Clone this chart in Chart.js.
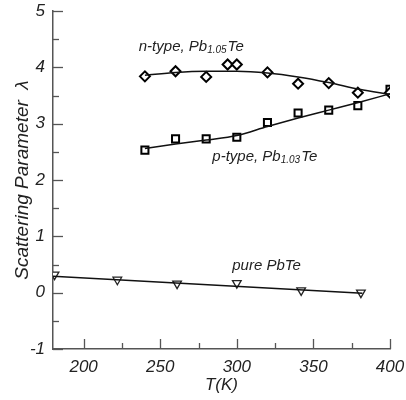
<!DOCTYPE html>
<html>
<head>
<meta charset="utf-8">
<script src="https://cdn.jsdelivr.net/npm/chart.js@4"></script>
<style>
html,body{margin:0;padding:0;background:#fff;}
#wrap{width:406px;height:400px;}
</style>
</head>
<body>
<div id="wrap"><canvas id="c" width="406" height="400"></canvas></div>
<script>
// ---- data ----
const nTypeT      = [240, 260, 280, 294, 300, 320, 340, 360, 379, 400];
const nTypeLambda = [3.84, 3.93, 3.83, 4.05, 4.05, 3.91, 3.71, 3.72, 3.55, 3.55];
const pTypeT      = [240, 260, 280, 300, 320, 340, 360, 379, 400];
const pTypeLambda = [2.53, 2.73, 2.73, 2.76, 3.02, 3.19, 3.24, 3.32, 3.61];
const pureT       = [181, 222, 261, 300, 342, 381];
const pureLambda  = [0.32, 0.23, 0.16, 0.17, 0.04, 0.0];
// fitted curves
const nFitT       = [240, 260, 280, 300, 320, 340, 360, 380, 400];
const nFitLambda  = [3.86, 3.91, 3.93, 3.93, 3.90, 3.83, 3.73, 3.61, 3.52];
const pFitT       = [240, 260, 280, 300, 320, 340, 360, 380, 400];
const pFitLambda  = [2.56, 2.64, 2.71, 2.79, 2.95, 3.10, 3.24, 3.38, 3.53];
const pureFitT    = [180, 382];
const pureFitLambda = [0.29, -0.01];
// axis ticks (major ticks carry labels, minor ones do not)
const xTickLabels = [200, 250, 300, 350, 400];
const xMinorTicks = [225, 275, 325, 375];
const yTickLabels = [-1, 0, 1, 2, 3, 4, 5];
const yMinorTicks = [-0.5, 0.5, 1.5, 2.5, 3.5, 4.5];

const pts = (xs, ys) => xs.map((x, i) => ({x: x, y: ys[i]}));

const FONT = '"Liberation Sans", Arial, sans-serif';

const annotations = [
  {x: 236, y: 4.37, parts: [['n-type, Pb', false], ['1.05', true], ['Te', false]]},
  {x: 284, y: 2.42, parts: [['p-type, Pb', false], ['1.03', true], ['Te', false]]},
  {x: 297, y: 0.48, parts: [['pure PbTe', false]]}
];

const inwardTicks = {
  id: 'inwardTicks',
  afterDraw(chart) {
    const ctx = chart.ctx, xs = chart.scales.x, ys = chart.scales.y, a = chart.chartArea;
    ctx.save();
    ctx.strokeStyle = '#555';
    ctx.lineWidth = 1.3;
    xs.ticks.forEach(t => {
      const v = t.value;
      const len = xTickLabels.includes(v) ? 10 : 6;
      const px = Math.round(xs.getPixelForValue(v)) + 0.5;
      ctx.beginPath(); ctx.moveTo(px, a.bottom); ctx.lineTo(px, a.bottom - len); ctx.stroke();
    });
    ys.ticks.forEach(t => {
      const v = t.value;
      const len = yTickLabels.includes(v) ? 10 : 6;
      const py = Math.round(ys.getPixelForValue(v)) + 0.5;
      ctx.beginPath(); ctx.moveTo(a.left, py); ctx.lineTo(a.left + len, py); ctx.stroke();
    });
    // annotations
    ctx.fillStyle = '#222';
    ctx.textBaseline = 'middle';
    annotations.forEach(an => {
      let px = xs.getPixelForValue(an.x);
      const py = ys.getPixelForValue(an.y);
      an.parts.forEach(([txt, sub]) => {
        ctx.font = 'italic ' + (sub ? 10 : 15) + 'px ' + FONT;
        ctx.fillText(txt, px, sub ? py + 4 : py);
        px += ctx.measureText(txt).width + (sub ? 1 : 0);
      });
    });
    ctx.restore();
  }
};

const zeroPad = s => { s.paddingTop = 0; s.paddingBottom = 0; s.paddingLeft = 0; s.paddingRight = 0; };

new Chart(document.getElementById('c'), {
  data: {
    datasets: [
      {type: 'line', data: pts(nFitT, nFitLambda), borderColor: '#111', borderWidth: 1.5, pointRadius: 0, tension: 0.4, cubicInterpolationMode: 'monotone', fill: false},
      {type: 'line', data: pts(pFitT, pFitLambda), borderColor: '#111', borderWidth: 1.5, pointRadius: 0, tension: 0.4, cubicInterpolationMode: 'monotone', fill: false},
      {type: 'line', data: pts(pureFitT, pureFitLambda), borderColor: '#111', borderWidth: 1.5, pointRadius: 0, fill: false},
      {type: 'scatter', data: pts(nTypeT, nTypeLambda), pointStyle: 'rectRot', pointRadius: 5, borderColor: '#000', backgroundColor: '#fff', borderWidth: 2},
      {type: 'scatter', data: pts(pTypeT, pTypeLambda), pointStyle: 'rect', pointRadius: 5, borderColor: '#000', backgroundColor: '#fff', borderWidth: 2},
      {type: 'scatter', data: pts(pureT, pureLambda), pointStyle: 'triangle', rotation: 180, pointRadius: 5, borderColor: '#222', backgroundColor: '#fff', borderWidth: 1.3}
    ]
  },
  options: {
    responsive: false,
    animation: false,
    layout: {padding: {top: 11, right: 16, left: 0, bottom: 0}},
    plugins: {legend: {display: false}, tooltip: {enabled: false}},
    scales: {
      x: {
        type: 'linear', min: 180, max: 400,
        grid: {drawOnChartArea: false, drawTicks: false},
        border: {display: true, color: '#555', width: 1.5},
        afterBuildTicks: s => { s.ticks = xTickLabels.concat(xMinorTicks).sort((a, b) => a - b).map(v => ({value: v})); },
        ticks: {
          padding: 8, color: '#222', autoSkip: false, maxRotation: 0,
          font: {family: FONT, size: 17, style: 'italic'},
          callback: v => xTickLabels.includes(v) ? String(v) : ''
        },
        title: {display: true, text: 'T(K)', color: '#222', padding: {top: 0, bottom: 5}, font: {family: FONT, size: 17, style: 'italic'}},
        afterFit: s => { s.height = 51; zeroPad(s); }
      },
      y: {
        type: 'linear', min: -1, max: 5,
        grid: {drawOnChartArea: false, drawTicks: false},
        border: {display: true, color: '#555', width: 1.5},
        afterBuildTicks: s => { s.ticks = yTickLabels.concat(yMinorTicks).sort((a, b) => a - b).map(v => ({value: v})); },
        ticks: {
          padding: 8, color: '#222', autoSkip: false,
          font: {family: FONT, size: 17, style: 'italic'},
          callback: v => yTickLabels.includes(v) ? String(v) : ''
        },
        title: {display: true, text: 'Scattering Parameter  λ', color: '#222', padding: {top: 11, bottom: 0}, font: {family: FONT, size: 19, style: 'italic'}},
        afterFit: s => { s.width = 53; zeroPad(s); }
      }
    }
  },
  plugins: [inwardTicks]
});
</script>
</body>
</html>
